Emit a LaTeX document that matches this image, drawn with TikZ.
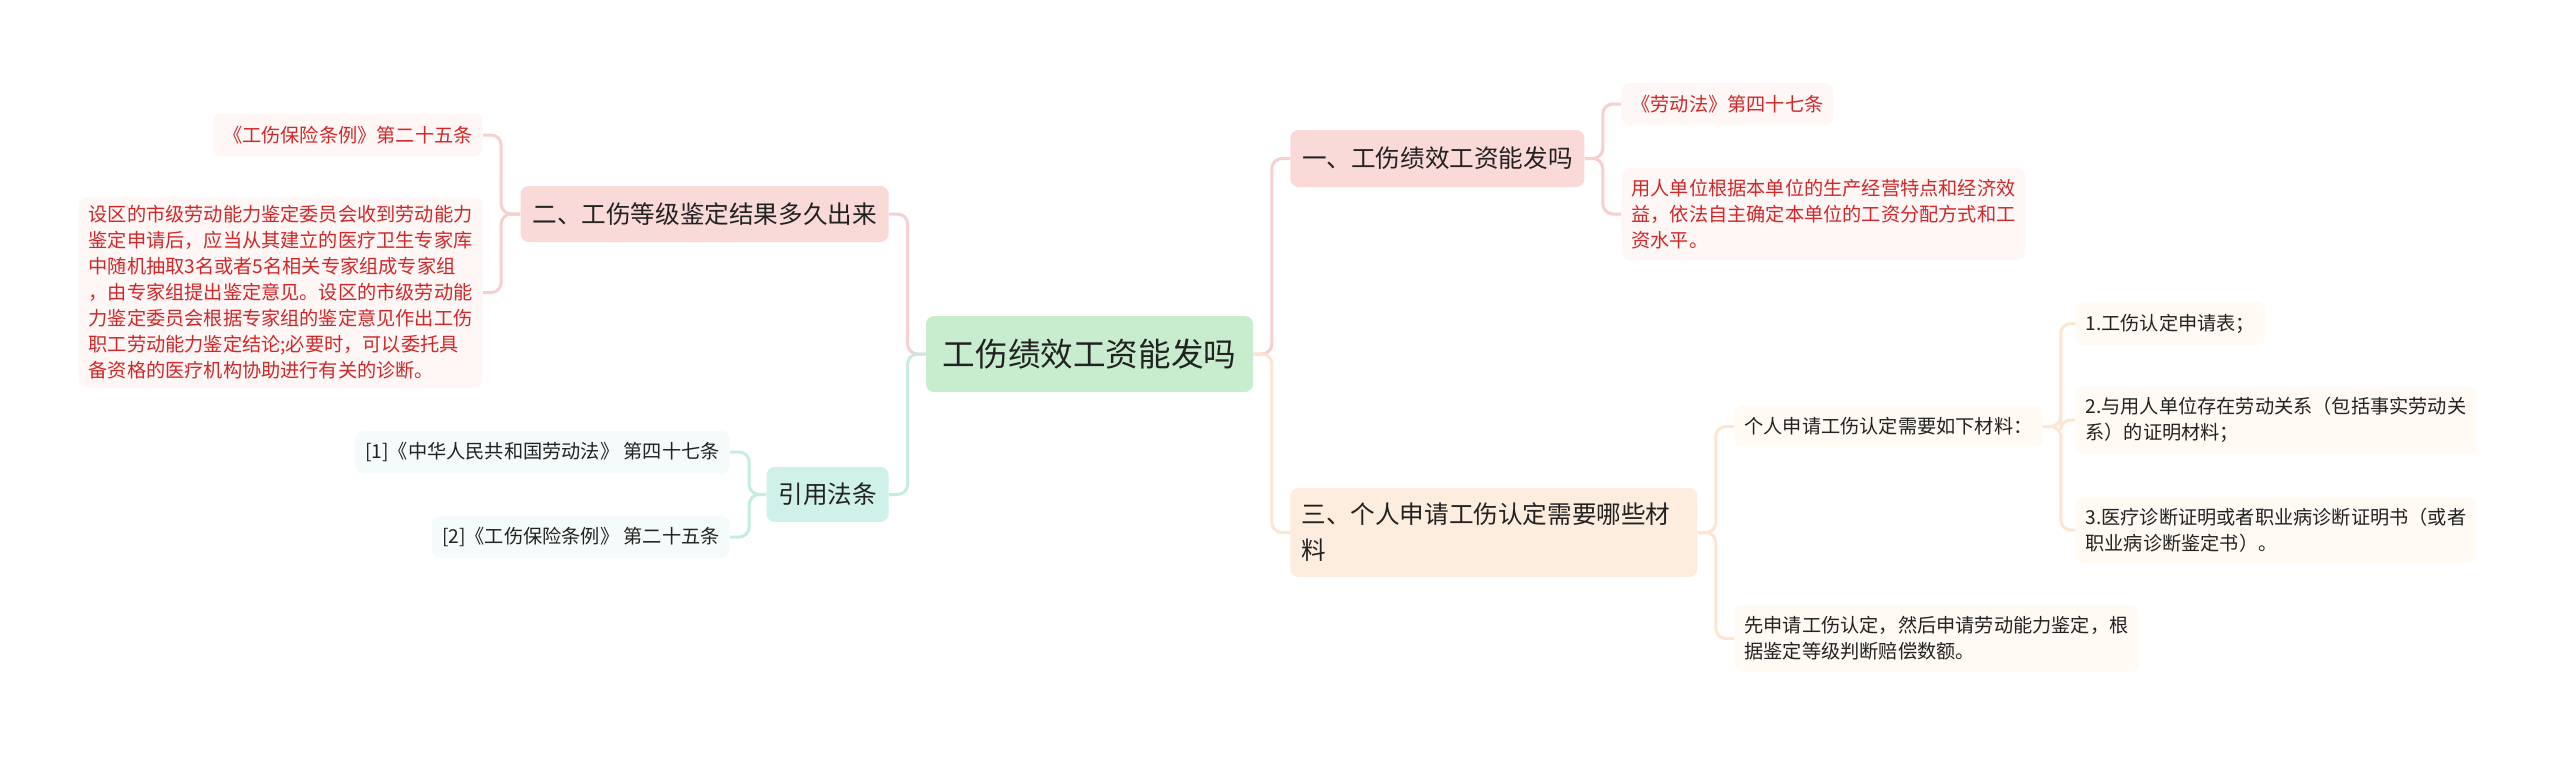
\documentclass[tikz,border=0pt]{standalone}
\usepackage{fontspec}
\setmainfont{Noto Sans CJK SC}

\definecolor{rootfill}{RGB}{200,236,206}
\definecolor{pinkfill}{RGB}{250,217,217}
\definecolor{pinkline}{RGB}{246,207,207}
\definecolor{pinkleaf}{RGB}{255,246,246}
\definecolor{peachfill}{RGB}{253,237,222}
\definecolor{peachline}{RGB}{251,230,210}
\definecolor{peachleaf}{RGB}{255,250,244}
\definecolor{mintfill}{RGB}{207,241,233}
\definecolor{mintline}{RGB}{196,236,227}
\definecolor{mintleaf}{RGB}{245,251,250}
\definecolor{redtext}{RGB}{208,40,40}
\definecolor{darktext}{RGB}{34,34,34}

\tikzset{
  rootbox/.style={fill=rootfill, rounded corners=4pt, inner sep=0pt, minimum width=163.5pt, minimum height=38pt, text=darktext, font=\fontsize{16.3}{20}\selectfont},
  branch/.style={rounded corners=4pt, inner sep=0pt, text=darktext, font=\fontsize{12.3}{18}\selectfont},
  leaf/.style={rounded corners=4pt, inner xsep=5pt, inner ysep=0pt, align=left, font=\fontsize{9.6}{13}\selectfont},
  linkline/.style={line width=1.5pt, rounded corners=5pt},
}

\begin{document}
\begin{tikzpicture}[x=0.5pt, y=-0.5pt]
    % 画布大小
    \useasboundingbox (0,0) rectangle (2560,756);

    % 1. 中心主题
    \node[rootbox] (root) at (1089.5,354) {工伤绩效工资能发吗};

    % 2. 右侧：一、工伤绩效工资能发吗
    \node[branch, fill=pinkfill, minimum width=147pt, minimum height=28.5pt, anchor=west] (yi) at (1290,158.5) {一、工伤绩效工资能发吗};
    \node[leaf, fill=pinkleaf, text=redtext, minimum height=21pt, anchor=west] (yia) at (1621,104) {《劳动法》第四十七条};
    \node[leaf, fill=pinkleaf, text=redtext, minimum height=46pt, anchor=west] (yib) at (1621,214) {用人单位根据本单位的生产经营特点和经济效\\益，依法自主确定本单位的工资分配方式和工\\资水平。};

    % 3. 右侧：三、个人申请工伤认定需要哪些材料
    \node[branch, fill=peachfill, text width=192.5pt, inner xsep=5.5pt, align=left, minimum height=44.5pt, anchor=west] (san) at (1290,532.5) {三、个人申请工伤认定需要哪些材\\料};
    \node[leaf, fill=peachleaf, text=darktext, minimum height=20.5pt, anchor=west] (sana) at (1734,426.5) {个人申请工伤认定需要如下材料：};
    \node[leaf, fill=peachleaf, text=darktext, minimum height=21.5pt, anchor=west] (sana1) at (2075,323.5) {1.工伤认定申请表；};
    \node[leaf, fill=peachleaf, text=darktext, minimum height=33pt, anchor=west] (sana2) at (2075,420) {2.与用人单位存在劳动关系（包括事实劳动关\\系）的证明材料；};
    \node[leaf, fill=peachleaf, text=darktext, minimum height=33pt, anchor=west] (sana3) at (2075,530) {3.医疗诊断证明或者职业病诊断证明书（或者\\职业病诊断鉴定书）。};
    \node[leaf, fill=peachleaf, text=darktext, minimum height=33.5pt, anchor=west] (sanb) at (1734,638.5) {先申请工伤认定，然后申请劳动能力鉴定，根\\据鉴定等级判断赔偿数额。};

    % 4. 左侧：二、工伤等级鉴定结果多久出来
    \node[branch, fill=pinkfill, minimum width=184pt, minimum height=28pt, anchor=east] (er) at (889,214) {二、工伤等级鉴定结果多久出来};
    \node[leaf, fill=pinkleaf, text=redtext, minimum height=21.5pt, anchor=east] (era) at (483,135) {《工伤保险条例》第二十五条};
    \node[leaf, fill=pinkleaf, text=redtext, minimum height=95pt, anchor=east] (erb) at (483,292.5) {设区的市级劳动能力鉴定委员会收到劳动能力\\鉴定申请后，应当从其建立的医疗卫生专家库\\中随机抽取3名或者5名相关专家组成专家组\\，由专家组提出鉴定意见。设区的市级劳动能\\力鉴定委员会根据专家组的鉴定意见作出工伤\\职工劳动能力鉴定结论;必要时，可以委托具\\备资格的医疗机构协助进行有关的诊断。};

    % 5. 左侧：引用法条
    \node[branch, fill=mintfill, minimum width=61pt, minimum height=27.5pt, anchor=east] (cite) at (889,494.5) {引用法条};
    \node[leaf, fill=mintleaf, text=darktext, minimum height=21pt, anchor=east] (citea) at (730,452) {[1]《中华人民共和国劳动法》 第四十七条};
    \node[leaf, fill=mintleaf, text=darktext, minimum height=21pt, anchor=east] (citeb) at (730,537) {[2]《工伤保险条例》 第二十五条};

    % 6. 连线
    \draw[linkline, pinkline] (root.east) -- ++(18.5,0) |- (yi.west);
    \draw[linkline, peachline] (root.east) -- ++(18.5,0) |- (san.west);
    \draw[linkline, pinkline] (yi.east) -- ++(18,0) |- (yia.west);
    \draw[linkline, pinkline] (yi.east) -- ++(18,0) |- (yib.west);
    \draw[linkline, peachline] (san.east) -- ++(18,0) |- (sana.west);
    \draw[linkline, peachline] (san.east) -- ++(18,0) |- (sanb.west);
    \draw[linkline, peachline] (sana.east) -- ++(18,0) |- (sana1.west);
    \draw[linkline, peachline] (sana.east) -- ++(18,0) |- (sana2.west);
    \draw[linkline, peachline] (sana.east) -- ++(18,0) |- (sana3.west);

    \draw[linkline, pinkline] (root.west) -- ++(-18,0) |- (er.east);
    \draw[linkline, mintline] (root.west) -- ++(-18,0) |- (cite.east);
    \draw[linkline, pinkline] (er.west) -- ++(-19,0) |- (era.east);
    \draw[linkline, pinkline] (er.west) -- ++(-19,0) |- (erb.east);
    \draw[linkline, mintline] (cite.west) -- ++(-17,0) |- (citea.east);
    \draw[linkline, mintline] (cite.west) -- ++(-17,0) |- (citeb.east);

\end{tikzpicture}
\end{document}
